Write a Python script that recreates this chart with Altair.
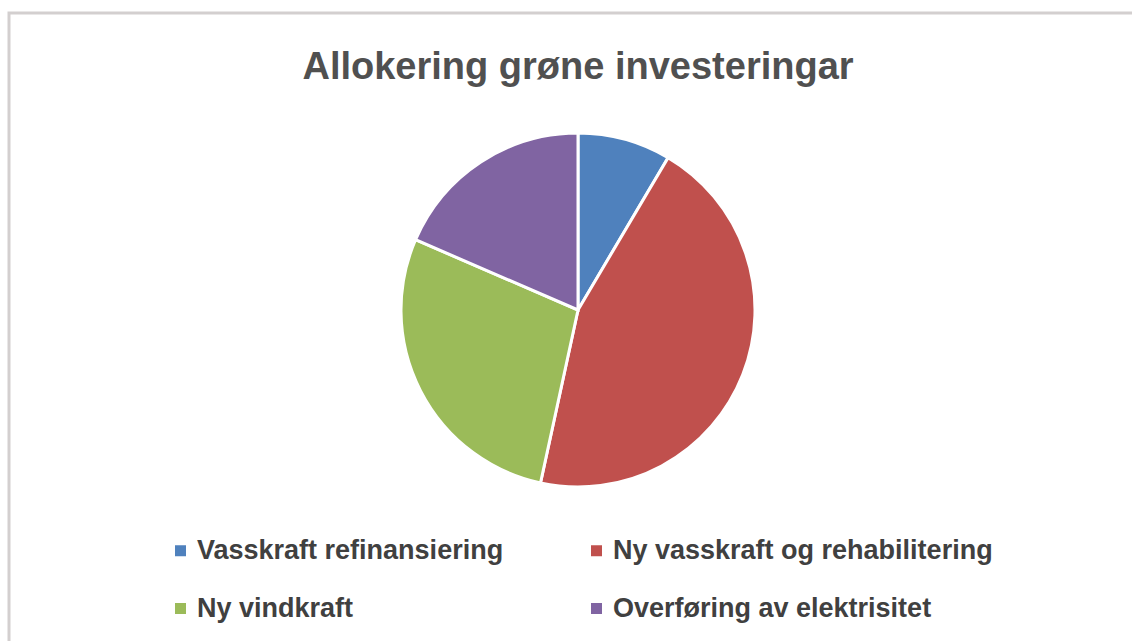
import altair as alt
import pandas as pd

categories = ["Vasskraft refinansiering", "Ny vasskraft og rehabilitering", "Ny vindkraft", "Overføring av elektrisitet"]
values = [8.5, 44.9, 28.1, 18.5]
colors = ["#4F81BD", "#C0504D", "#9BBB59", "#8064A2"]
title_text = "Allokering grøne investeringar"

df = pd.DataFrame({"kategori": categories, "verdi": values, "rekkje": list(range(len(categories)))})
one = pd.DataFrame({"t": [title_text]})

FONT = "Liberation Sans, Arial, sans-serif"

border = alt.Chart(one).mark_rect(filled=False, stroke="#d3cfcf", strokeWidth=3).encode(
    x=alt.value(9), y=alt.value(13), x2=alt.value(1150), y2=alt.value(660)
)

title = alt.Chart(one).mark_text(
    font=FONT, fontSize=38, fontWeight="bold", color="#505050", baseline="alphabetic", align="center"
).encode(x=alt.value(578), y=alt.value(79), text="t:N")

pie = alt.Chart(df).mark_arc(stroke="white", strokeWidth=3).encode(
    theta=alt.Theta("verdi:Q", stack=True),
    order=alt.Order("rekkje:Q"),
    color=alt.Color(
        "kategori:N",
        scale=alt.Scale(domain=categories, range=colors),
        sort=categories,
        legend=alt.Legend(
            title=None,
            orient="none",
            direction="horizontal",
            legendX=167,
            legendY=537,
            columns=2,
            columnPadding=79,
            rowPadding=30,
            symbolType="square",
            symbolSize=121,
            symbolStrokeWidth=0,
            symbolOffset=0,
            labelOffset=3,
            labelFont=FONT,
            labelFontSize=27,
            labelFontWeight="bold",
            labelColor="#404040",
            labelLimit=600,
        ),
    ),
    x=alt.value(578),
    y=alt.value(310),
    radius=alt.value(177),
)

chart = alt.layer(border, title, pie).properties(
    width=1132, height=641, autosize=alt.AutoSizeParams(type="none"), padding=0, background="white"
).configure_view(stroke=None)

chart.save("out.html", embed_options={"renderer": "svg", "actions": False})
